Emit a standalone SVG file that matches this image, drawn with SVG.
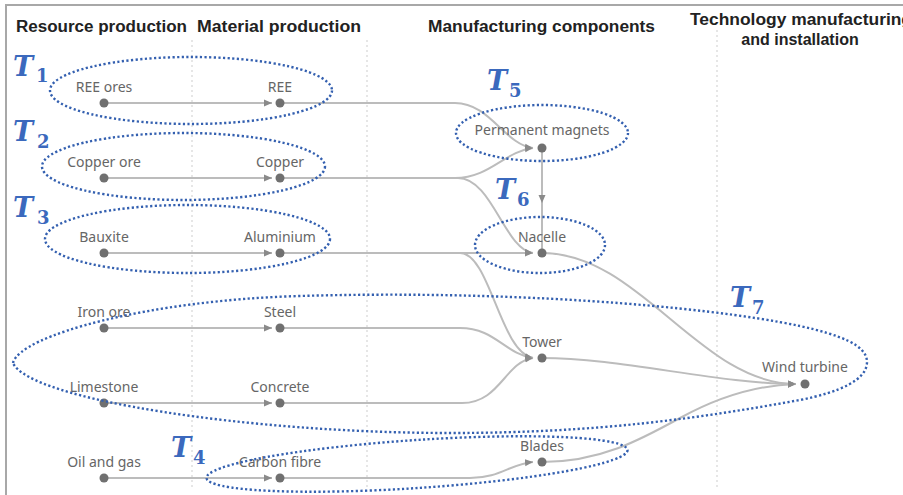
<svg xmlns="http://www.w3.org/2000/svg" width="903" height="495" viewBox="0 0 903 495">
<style>
.hdr{font-family:"Liberation Sans",Arial,sans-serif;font-weight:bold;font-size:16px;fill:#222}
.lbl{font-family:"Noto Sans","Liberation Sans",sans-serif;font-size:14px;fill:#666;text-anchor:middle}
.dot{fill:#707070}
.con{fill:none;stroke:#bcbcbc;stroke-width:2}
.col{stroke:#d6d6d6;stroke-width:1.2;stroke-dasharray:2 3}
.grp{fill:none;stroke:#3460b0;stroke-width:2.4;stroke-dasharray:2.2 2.4}
.tl{font-family:"DejaVu Serif","Liberation Serif",serif;font-weight:bold;font-style:italic;font-size:27px;fill:#3b69bd}
.ts{font-family:"DejaVu Serif","Liberation Serif",serif;font-weight:bold;font-size:18px;fill:#3b69bd}
</style>
<defs>
<marker id="arr" viewBox="0 0 8 8" refX="8" refY="4" markerWidth="8" markerHeight="8" markerUnits="userSpaceOnUse" orient="auto">
<path d="M0,0.5 L8,4 L0,7.5 z" fill="#8a8a8a"/>
</marker>
</defs>
<rect x="0" y="0" width="903" height="495" fill="#fff"/>
<path d="M6,500 V5 H903" fill="none" stroke="#a8a8a8" stroke-width="2"/>
<g id="columns">
<line class="col" x1="192" y1="40" x2="192" y2="487"/>
<line class="col" x1="367" y1="40" x2="367" y2="487"/>
<line class="col" x1="717" y1="30" x2="717" y2="487"/>
</g>
<g id="headers">
<text class="hdr" x="16" y="32" textLength="171" lengthAdjust="spacingAndGlyphs">Resource production</text>
<text class="hdr" x="197" y="32" textLength="164" lengthAdjust="spacingAndGlyphs">Material production</text>
<text class="hdr" x="428" y="32" textLength="227" lengthAdjust="spacingAndGlyphs">Manufacturing components</text>
<text class="hdr" x="801" y="25" text-anchor="middle" textLength="222" lengthAdjust="spacingAndGlyphs">Technology manufacturing</text>
<text class="hdr" x="800" y="45" text-anchor="middle">and installation</text>
</g>
<g id="connectors">
<path class="con" marker-end="url(#arr)" d="M104,103 H272"/>
<path class="con" marker-end="url(#arr)" d="M104,178 H272"/>
<path class="con" marker-end="url(#arr)" d="M104,253 H272"/>
<path class="con" marker-end="url(#arr)" d="M104,328 H272"/>
<path class="con" marker-end="url(#arr)" d="M104,403 H272"/>
<path class="con" marker-end="url(#arr)" d="M104,478 H272"/>
<path class="con" marker-end="url(#arr)" d="M280,103 H455 C490,103 505,145 533,148"/>
<path class="con" marker-end="url(#arr)" d="M280,178 H455 C490,178 505,151 533,148"/>
<path class="con" marker-end="url(#arr)" d="M280,178 H458 C492,178 505,250 533,253"/>
<path class="con" marker-end="url(#arr)" d="M280,253 H533"/>
<path class="con" marker-end="url(#arr)" d="M280,253 H460 C490,253 500,352 533,358"/>
<path class="con" marker-end="url(#arr)" d="M280,328 H460 C495,328 505,354 533,358"/>
<path class="con" marker-end="url(#arr)" d="M280,403 H462 C500,403 505,362 533,358"/>
<path class="con" marker-end="url(#arr)" d="M280,478 H470 C500,478 510,464 533,462"/>
<path class="con" marker-mid="url(#arr)" d="M542,148 L542,203 L542,253"/>
<path class="con" marker-end="url(#arr)" d="M542,253 C640,253 700,384 796,384"/>
<path class="con" marker-end="url(#arr)" d="M542,358 C620,358 720,384 796,384"/>
<path class="con" marker-end="url(#arr)" d="M542,462 C600,462 640,440 680,418 C720,396 760,385 796,384"/>
</g>
<g id="n-ree-ores"><circle class="dot" cx="104" cy="103" r="4.5"/><text class="lbl" x="104" y="92">REE ores</text></g>
<g id="n-ree"><circle class="dot" cx="280" cy="103" r="4.5"/><text class="lbl" x="280" y="92">REE</text></g>
<g id="n-copper-ore"><circle class="dot" cx="104" cy="178" r="4.5"/><text class="lbl" x="104" y="167">Copper ore</text></g>
<g id="n-copper"><circle class="dot" cx="280" cy="178" r="4.5"/><text class="lbl" x="280" y="167">Copper</text></g>
<g id="n-bauxite"><circle class="dot" cx="104" cy="253" r="4.5"/><text class="lbl" x="104" y="242">Bauxite</text></g>
<g id="n-aluminium"><circle class="dot" cx="280" cy="253" r="4.5"/><text class="lbl" x="280" y="242">Aluminium</text></g>
<g id="n-iron-ore"><circle class="dot" cx="104" cy="328" r="4.5"/><text class="lbl" x="104" y="317">Iron ore</text></g>
<g id="n-steel"><circle class="dot" cx="280" cy="328" r="4.5"/><text class="lbl" x="280" y="317">Steel</text></g>
<g id="n-limestone"><circle class="dot" cx="104" cy="403" r="4.5"/><text class="lbl" x="104" y="392">Limestone</text></g>
<g id="n-concrete"><circle class="dot" cx="280" cy="403" r="4.5"/><text class="lbl" x="280" y="392">Concrete</text></g>
<g id="n-oil-gas"><circle class="dot" cx="104" cy="478" r="4.5"/><text class="lbl" x="104" y="467">Oil and gas</text></g>
<g id="n-carbon-fibre"><circle class="dot" cx="280" cy="478" r="4.5"/><text class="lbl" x="280" y="467">Carbon fibre</text></g>
<g id="n-permanent-magnets"><circle class="dot" cx="542" cy="148" r="4.5"/><text class="lbl" x="542" y="135">Permanent magnets</text></g>
<g id="n-nacelle"><circle class="dot" cx="542" cy="253" r="4.5"/><text class="lbl" x="542" y="242">Nacelle</text></g>
<g id="n-tower"><circle class="dot" cx="542" cy="358" r="4.5"/><text class="lbl" x="542" y="347">Tower</text></g>
<g id="n-blades"><circle class="dot" cx="542" cy="462" r="4.5"/><text class="lbl" x="542" y="451">Blades</text></g>
<g id="n-wind-turbine"><circle class="dot" cx="805" cy="384" r="4.5"/><text class="lbl" x="805" y="372">Wind turbine</text></g>
<g id="T1"><ellipse class="grp" cx="191" cy="90.5" rx="141" ry="33.5"/><text class="tl" x="13" y="76">T</text><text class="ts" x="36" y="82">1</text></g>
<g id="T2"><ellipse class="grp" cx="183.5" cy="166.5" rx="141.5" ry="33.5"/><text class="tl" x="13" y="141">T</text><text class="ts" x="37" y="148">2</text></g>
<g id="T3"><ellipse class="grp" cx="187.5" cy="239" rx="142.5" ry="34"/><text class="tl" x="13" y="217">T</text><text class="ts" x="37" y="224">3</text></g>
<g id="T4"><ellipse class="grp" cx="417" cy="464" rx="211" ry="24" transform="rotate(-3.8 417 464)"/><text class="tl" x="171" y="457">T</text><text class="ts" x="193" y="464">4</text></g>
<g id="T5"><ellipse class="grp" cx="542" cy="133" rx="86" ry="28"/><text class="tl" x="487" y="90">T</text><text class="ts" x="509" y="97">5</text></g>
<g id="T6"><ellipse class="grp" cx="540" cy="245" rx="65" ry="28"/><text class="tl" x="495" y="199">T</text><text class="ts" x="517" y="206">6</text></g>
<g id="T7"><path class="grp" d="M13,363 C20,335 150,300 300,296 C500,290 700,305 800,326 C840,335 867,345 867,362 C867,380 840,392 800,400 C700,418 600,433 450,433 C250,433 30,400 13,363 Z"/><text class="tl" x="730" y="307">T</text><text class="ts" x="752" y="314">7</text></g>
</svg>
